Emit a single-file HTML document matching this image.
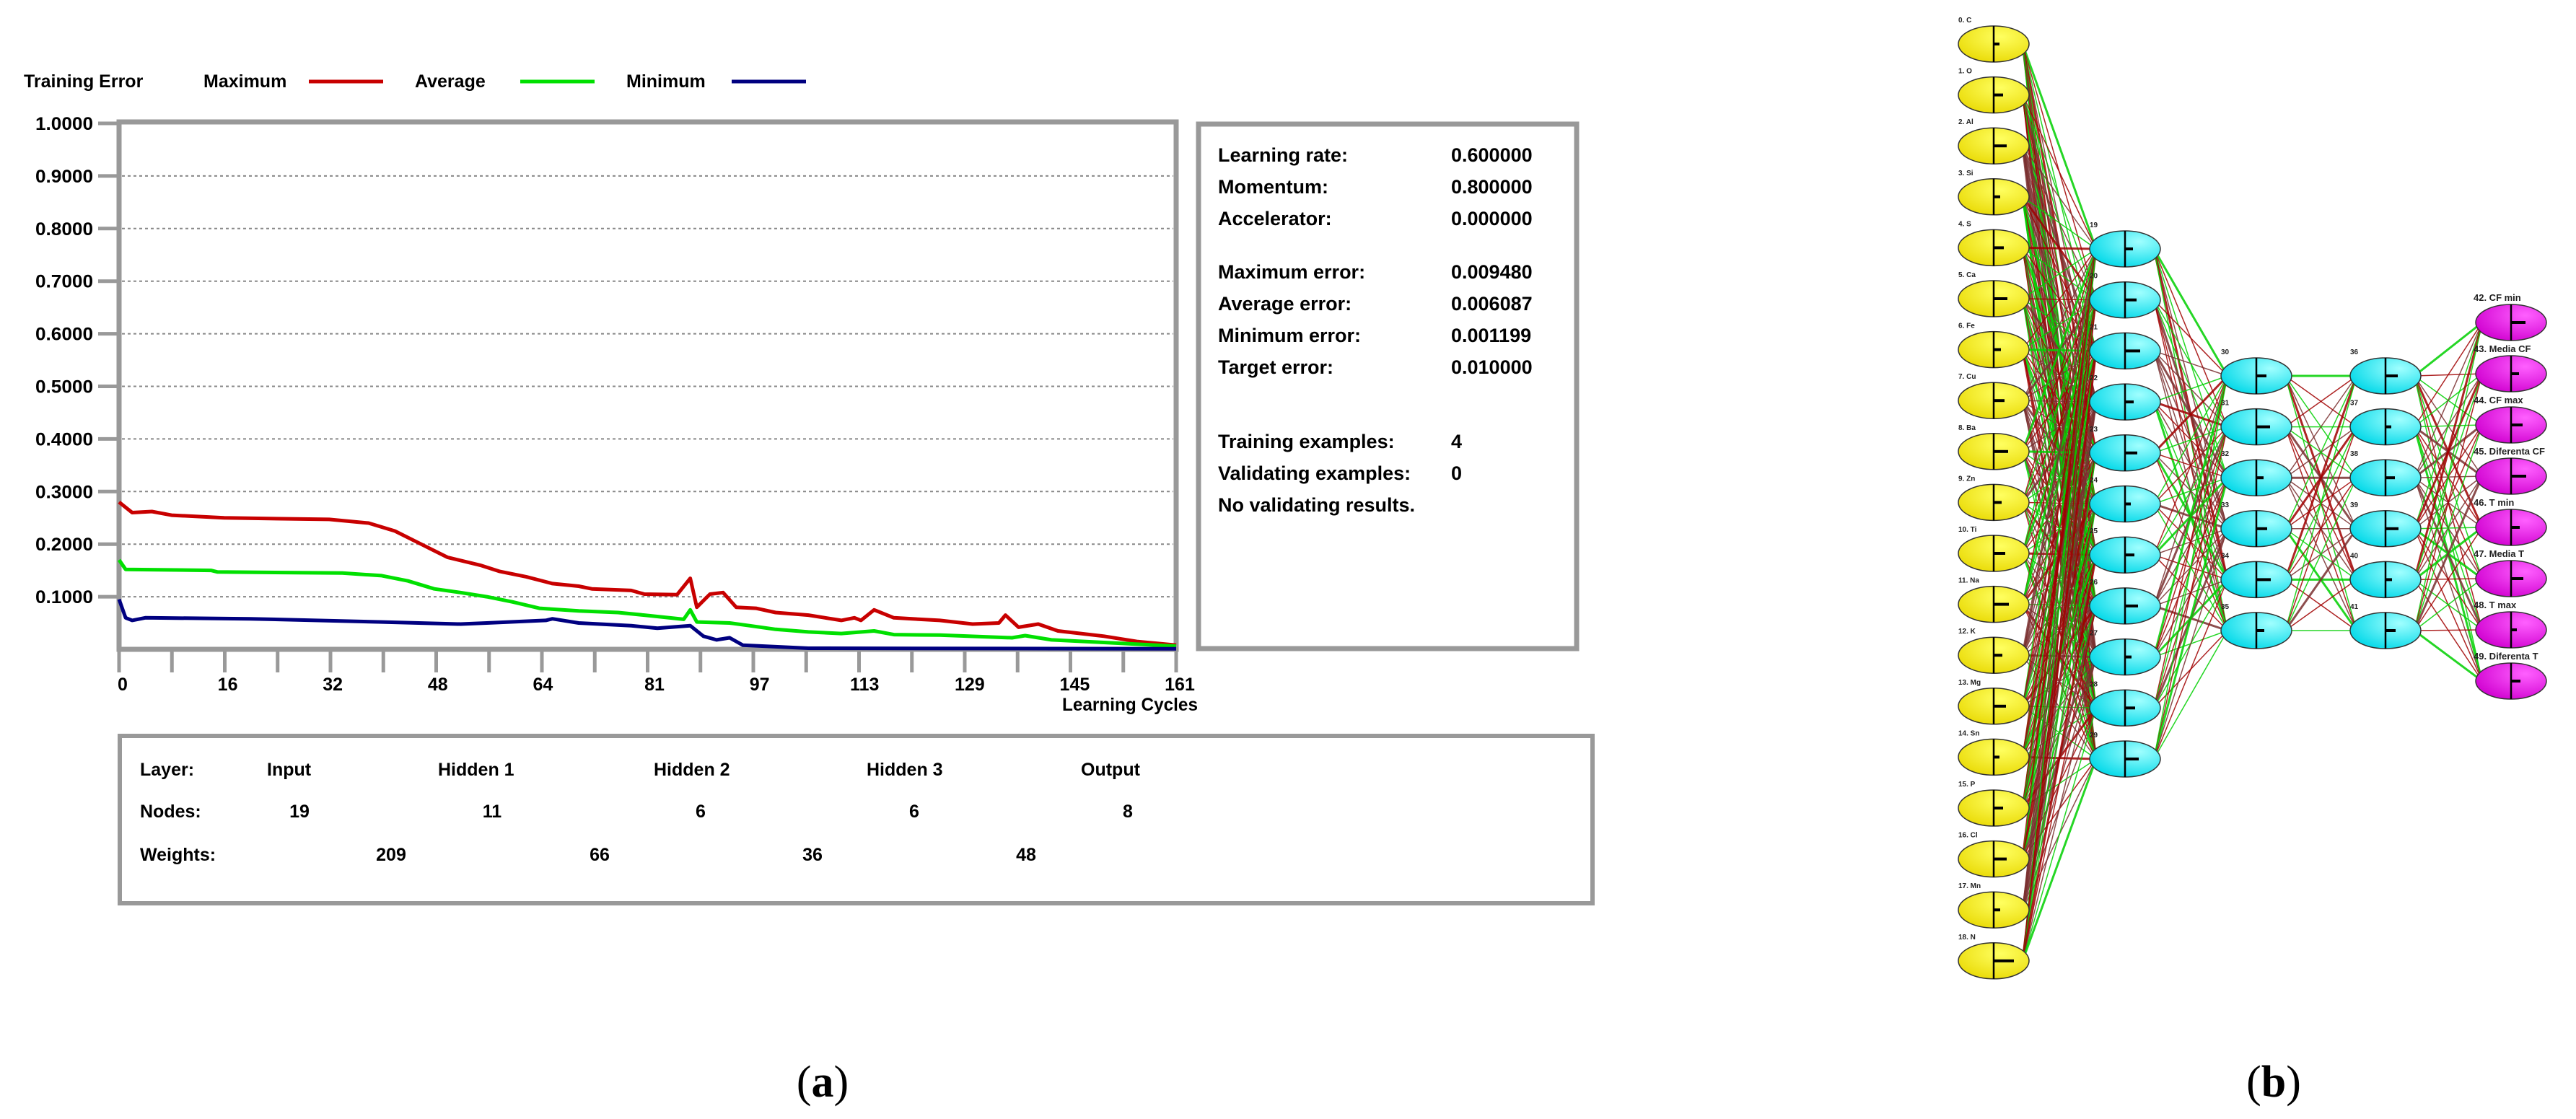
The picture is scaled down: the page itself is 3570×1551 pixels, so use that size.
<!DOCTYPE html>
<html><head><meta charset="utf-8"><style>
html,body{margin:0;padding:0;background:#fff}
svg{display:block}
.t{font-family:"Liberation Sans",sans-serif;font-weight:bold}
</style></head><body>
<svg id="root" width="3570" height="1551" viewBox="0 0 3570 1551" xmlns="http://www.w3.org/2000/svg">
<defs>
<radialGradient id="gy" cx="0.6" cy="0.3" r="0.8"><stop offset="0" stop-color="#ffff60"/><stop offset="1" stop-color="#e8d800"/></radialGradient>
<radialGradient id="gc" cx="0.7" cy="0.3" r="0.8"><stop offset="0" stop-color="#a0ffff"/><stop offset="1" stop-color="#00d8e8"/></radialGradient>
<radialGradient id="gm" cx="0.7" cy="0.3" r="0.8"><stop offset="0" stop-color="#ff60ff"/><stop offset="1" stop-color="#d000d0"/></radialGradient>
</defs>
<g id="chart"></g>
<g id="panels">
  <rect x="1661" y="172" width="524" height="727" fill="none" stroke="#999" stroke-width="7"/>
  <g class="t" font-size="27" fill="#000">
    <text x="1688" y="224">Learning rate:</text><text x="2011" y="224">0.600000</text>
    <text x="1688" y="268">Momentum:</text><text x="2011" y="268">0.800000</text>
    <text x="1688" y="312">Accelerator:</text><text x="2011" y="312">0.000000</text>
    <text x="1688" y="386">Maximum error:</text><text x="2011" y="386">0.009480</text>
    <text x="1688" y="430">Average error:</text><text x="2011" y="430">0.006087</text>
    <text x="1688" y="474">Minimum error:</text><text x="2011" y="474">0.001199</text>
    <text x="1688" y="518">Target error:</text><text x="2011" y="518">0.010000</text>
    <text x="1688" y="621">Training examples:</text><text x="2011" y="621">4</text>
    <text x="1688" y="665">Validating examples:</text><text x="2011" y="665">0</text>
    <text x="1688" y="709">No validating results.</text>
  </g>
  <rect x="166" y="1020" width="2041" height="232" fill="none" stroke="#999" stroke-width="6"/>
  <g class="t" font-size="25" fill="#000">
    <text x="194" y="1075">Layer:</text>
    <text x="370" y="1075">Input</text>
    <text x="607" y="1075">Hidden 1</text>
    <text x="906" y="1075">Hidden 2</text>
    <text x="1201" y="1075">Hidden 3</text>
    <text x="1498" y="1075">Output</text>
    <text x="194" y="1133">Nodes:</text>
    <g text-anchor="middle">
    <text x="415" y="1133">19</text>
    <text x="682" y="1133">11</text>
    <text x="971" y="1133">6</text>
    <text x="1267" y="1133">6</text>
    <text x="1563" y="1133">8</text>
    <text x="542" y="1193">209</text>
    <text x="831" y="1193">66</text>
    <text x="1126" y="1193">36</text>
    <text x="1422" y="1193">48</text>
    </g>
    <text x="194" y="1193">Weights:</text>
  </g>
  <text x="1140" y="1520" font-family="Liberation Serif,serif" font-size="62" text-anchor="middle">(<tspan font-weight="bold">a</tspan>)</text>
  <text x="3151" y="1520" font-family="Liberation Serif,serif" font-size="62" text-anchor="middle">(<tspan font-weight="bold">b</tspan>)</text>
</g>
<g id="net"></g>
</svg>
<script>
const NS="http://www.w3.org/2000/svg";
// ---- chart data ----
const xTickLabels=[0,16,32,48,64,81,97,113,129,145,161];
const yTickLabels=["0.1000","0.2000","0.3000","0.4000","0.5000","0.6000","0.7000","0.8000","0.9000","1.0000"];
const maxCycles=[0,2,5,8,16,32,38,42,46,50,55,58,62,66,70,72,78,80,85,87,88,90,92,94,97,100,105,110,112,113,115,118,125,130,134,135,137,140,143,150,155,161];
const maxVals=[0.28,0.26,0.262,0.255,0.25,0.247,0.24,0.225,0.2,0.175,0.16,0.148,0.138,0.125,0.12,0.115,0.112,0.105,0.104,0.135,0.08,0.105,0.108,0.08,0.078,0.07,0.065,0.055,0.06,0.055,0.075,0.06,0.055,0.048,0.05,0.065,0.042,0.048,0.035,0.025,0.015,0.008];
const avgCycles=[0,1,14,15,34,40,44,48,52,56,60,64,70,76,80,86,87,88,93,96,100,105,110,115,118,125,136,138,142,150,161];
const avgVals=[0.17,0.152,0.15,0.147,0.145,0.14,0.13,0.115,0.108,0.1,0.09,0.078,0.073,0.07,0.065,0.057,0.075,0.052,0.05,0.045,0.038,0.033,0.03,0.035,0.028,0.027,0.022,0.026,0.018,0.013,0.006];
const minCycles=[0,1,2,4,20,40,52,56,65,66,70,78,82,87,89,91,93,95,100,105,161];
const minVals=[0.095,0.06,0.055,0.06,0.058,0.052,0.048,0.05,0.055,0.058,0.05,0.045,0.04,0.045,0.025,0.018,0.022,0.008,0.005,0.002,0.001];

const X0=165,X1=1630,Y0=900,Y1=171;
const xs=c=>X0+c*(X1-X0)/161;
const ys=v=>Y0-v*(Y0-Y1);
const chart=document.getElementById('chart');
function mk(tag,attrs,parent){const e=document.createElementNS(NS,tag);for(const k in attrs)e.setAttribute(k,attrs[k]);(parent||chart).appendChild(e);return e;}

// gridlines & y ticks
yTickLabels.forEach(l=>{
  const v=parseFloat(l),y=ys(v);
  if(v<1){const g=mk('line',{x1:X0+4,x2:X1-4,y1:y,y2:y,stroke:'#888','stroke-width':2,'stroke-dasharray':'4 4'});
  
  }
  const tk=mk('line',{x1:136,x2:X0,y1:y,y2:y,stroke:'#999','stroke-width':5});
  
  
  const t=mk('text',{x:129,y:y+9,'text-anchor':'end','font-size':25,class:'t',textLength:80,lengthAdjust:'spacingAndGlyphs'});
  t.textContent=l;
  
  
});
// frame
const fr=mk('rect',{x:X0,y:Y1-2,width:X1-X0,height:Y0-Y1+2,fill:'none',stroke:'#999','stroke-width':7});


// x ticks
for(let i=0;i<=20;i++){
  const c=i*161/20,x=xs(c);
  const tk=mk('line',{x1:x,x2:x,y1:Y0+2,y2:932,stroke:'#999','stroke-width':5});
  
  
}
xTickLabels.forEach(c=>{
  const t=mk('text',{x:xs(c)+5,y:957,'text-anchor':'middle','font-size':25,class:'t'});
  t.textContent=c;
  
  
});
const xt=mk('text',{x:1660,y:985,'text-anchor':'end','font-size':25,class:'t',textLength:188,lengthAdjust:'spacingAndGlyphs'});
xt.textContent='Learning Cycles';


// series
function series(cyc,vals,color,name){
  let d='';cyc.forEach((c,i)=>{d+=(i?'L':'M')+xs(c).toFixed(1)+' '+ys(vals[i]).toFixed(1)});
  const p=mk('path',{d:d,fill:'none',stroke:color,'stroke-width':5,'stroke-linejoin':'round'});
  
  
}
series(maxCycles,maxVals,'#c80000','maximum-error-line');
series(avgCycles,avgVals,'#00e000','average-error-line');
series(minCycles,minVals,'#000080','minimum-error-line');
// legend
const lg=[['Training Error',33,null],['Maximum',282,'#c80000',428],['Average',575,'#00e000',721],['Minimum',868,'#000080',1014]];
lg.forEach(e=>{
  const t=mk('text',{x:e[1],y:121,'font-size':25,class:'t'});
  t.textContent=e[0];
  
  
  if(e[2]){const l=mk('line',{x1:e[3],x2:e[3]+103,y1:113,y2:113,stroke:e[2],'stroke-width':5});
  
  }
});

// ---- network ----
const net=document.getElementById('net');
const inLabels=["0. C","1. O","2. Al","3. Si","4. S","5. Ca","6. Fe","7. Cu","8. Ba","9. Zn","10. Ti","11. Na","12. K","13. Mg","14. Sn","15. P","16. Cl","17. Mn","18. N"];
const outLabels=["42. CF min","43. Media CF","44. CF max","45. Diferenta CF","46. T min","47. Media T","48. T max","49. Diferenta T"];
const layers=[
 {x:2763,n:19,y0:61,dy:70.6,fill:'url(#gy)',labels:inLabels},
 {x:2945,n:11,y0:345,dy:70.7,fill:'url(#gc)'},
 {x:3127,n:6,y0:521,dy:70.6,fill:'url(#gc)'},
 {x:3306,n:6,y0:521,dy:70.6,fill:'url(#gc)'},
 {x:3480,n:8,y0:447,dy:71,fill:'url(#gm)',labels:outLabels}];
const gl=mk('g',{},net);
for(let l=0;l<4;l++){const A=layers[l],B=layers[l+1];
  for(let i=0;i<A.n;i++)for(let j=0;j<B.n;j++){
    const h=(i*7+j*13+l*5+i*j)%5;
    const col=h<2?'#00d000':(h<4?'#a00000':'#7a3030');
    const ln=mk('line',{x1:A.x+40,y1:A.y0+i*A.dy,x2:B.x-40,y2:B.y0+j*B.dy,stroke:col,'stroke-width':((i+j)%4==0)?3:1.5,opacity:0.85},gl);
    
    
  }}
layers.forEach((L,li)=>{
  for(let i=0;i<L.n;i++){
    const cx=L.x,cy=L.y0+i*L.dy;
    const g=mk('g',{},net);
    
    
    mk('ellipse',{cx:cx,cy:cy,rx:49,ry:25,fill:L.fill,stroke:'#333','stroke-width':1.5},g);
    mk('line',{x1:cx,x2:cx,y1:cy-25,y2:cy+25,stroke:'#000','stroke-width':2.5},g);
    const w=li==0&&i==18?28:(8+(i*5+li*3)%14);
    mk('rect',{x:cx,y:cy-2,width:w,height:4,fill:'#000'},g);
    const lab=L.labels?L.labels[i]:(li==0?'':String(19+i+[0,0,11,17,23][li]));
    if(lab){const t=mk('text',{x:cx-(li==4?52:49),y:cy-30,'font-size':li==4?13:10,'font-family':'Liberation Sans,sans-serif','font-weight':'bold',fill:'#222'},g);
      t.textContent=lab;}
  }
});
</script>
</body></html>
